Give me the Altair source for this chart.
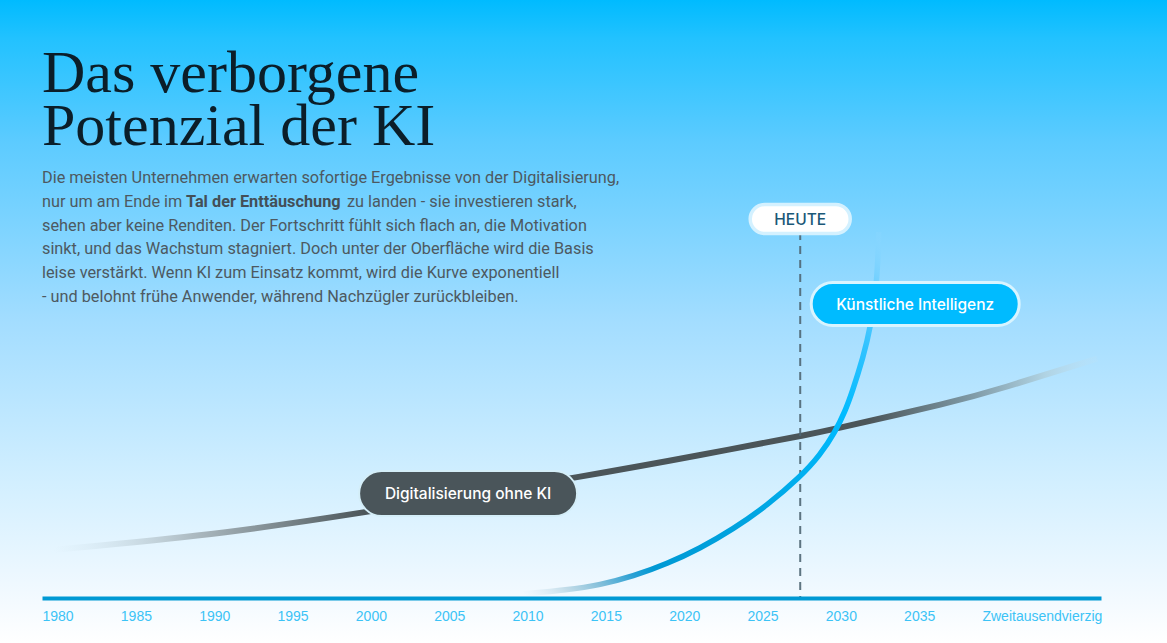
import altair as alt
import pandas as pd

# ---------------- data ----------------
digital_years = [1980.70, 1989.90, 2000.50, 2014.16, 2022.01, 2028.40, 2030.95, 2037.34, 2041.61, 2047.36]
digital_values = [48, 62.4, 85.6, 120.9, 143, 162, 170.4, 193.4, 211.5, 239.4]

ki_years = [2010.71, 2013.52, 2015.63, 2017.73, 2019.91, 2022.01, 2024.12, 2026.29, 2028.40,
            2029.67, 2030.63, 2031.27, 2031.72, 2032.42, 2032.87, 2033.32, 2033.41]
ki_values = [4, 8, 13, 21.6, 34.2, 49.7, 68.8, 92.6, 121, 143, 166, 187, 206, 241, 269, 316, 366]

tick_years = [1980, 1985, 1990, 1995, 2000, 2005, 2010, 2015, 2020, 2025, 2030, 2035, 2040]
tick_labels = ["1980", "1985", "1990", "1995", "2000", "2005", "2010", "2015", "2020",
               "2025", "2030", "2035", "Zweitausendvierzig"]

heute_year = 2028.4
heute_top = 366

title_lines = ["Das verborgene", "Potenzial der KI"]
para_line1 = "Die meisten Unternehmen erwarten sofortige Ergebnisse von der Digitalisierung,"
para_line2a = "nur um am Ende im"
para_line2b = "Tal der Enttäuschung"
para_line2c = "zu landen - sie investieren stark,"
para_rest = [
    "sehen aber keine Renditen. Der Fortschritt fühlt sich flach an, die Motivation",
    "sinkt, und das Wachstum stagniert. Doch unter der Oberfläche wird die Basis",
    "leise verstärkt. Wenn KI zum Einsatz kommt, wird die Kurve exponentiell",
    "- und belohnt frühe Anwender, während Nachzügler zurückbleiben.",
]

# ---------------- scales ----------------
X_DOMAIN = [1980, 2047.6]
Y_DOMAIN = [0, 598]
W, H = 1059, 598

xs = alt.Scale(domain=X_DOMAIN, nice=False, zero=False)
ys = alt.Scale(domain=Y_DOMAIN, nice=False, zero=False)

digital_df = pd.DataFrame({"Jahr": digital_years, "Wert": digital_values})
ki_df = pd.DataFrame({"Jahr": ki_years, "Wert": ki_values})
dummy = pd.DataFrame({"d": [0]})

expr = "''"
for y, l in reversed(list(zip(tick_years, tick_labels))):
    expr = f"(datum.value == {y} ? '{l}' : {expr})"
label_expr = expr

base = alt.Chart(dummy)

# background gradient
bg_grad = alt.Gradient(
    gradient="linear", x1=0, x2=0, y1=0, y2=1,
    stops=[
        alt.GradientStop(offset=0.0, color="#00bbff"),
        alt.GradientStop(offset=0.06, color="#22c2ff"),
        alt.GradientStop(offset=0.22, color="#5ccbff"),
        alt.GradientStop(offset=0.5, color="#a3ddff"),
        alt.GradientStop(offset=0.75, color="#d2efff"),
        alt.GradientStop(offset=0.92, color="#f1f9ff"),
        alt.GradientStop(offset=1.0, color="#ffffff"),
    ],
)
background = base.mark_rect(fill=bg_grad).encode(
    x=alt.value(-42), x2=alt.value(1125), y=alt.value(0), y2=alt.value(643)
)

dig_grad = alt.Gradient(
    gradient="linear", x1=0, x2=1, y1=0, y2=0,
    stops=[
        alt.GradientStop(offset=0.0, color="rgba(210,230,240,0)"),
        alt.GradientStop(offset=0.13, color="#afbdc4"),
        alt.GradientStop(offset=0.3, color="#4b5559"),
        alt.GradientStop(offset=0.78, color="#4b5559"),
        alt.GradientStop(offset=0.88, color="#7f9aa6"),
        alt.GradientStop(offset=0.95, color="#b0d3e3"),
        alt.GradientStop(offset=1.0, color="rgba(190,225,245,0.2)"),
    ],
)
digital_line = alt.Chart(digital_df).mark_line(
    stroke=dig_grad, strokeWidth=6, interpolate="natural", strokeCap="butt"
).encode(
    x=alt.X("Jahr:Q", scale=xs, axis=alt.Axis(
        values=tick_years, labelExpr=label_expr, title=None, grid=False, ticks=False,
        domain=True, domainColor="#0099d4", domainWidth=4, labelAlign="left",
        labelFlush=False, labelOverlap=False, labelPadding=11, labelFontSize=14,
        labelFont="Liberation Sans", labelColor="#3cc3f6", labelBaseline="top",
        zindex=1)),
    y=alt.Y("Wert:Q", scale=ys, axis=None),
)

ki_grad = alt.Gradient(
    gradient="linear", x1=0, y1=1, x2=1, y2=0,
    stops=[
        alt.GradientStop(offset=0.0, color="rgba(220,235,245,0)"),
        alt.GradientStop(offset=0.07, color="#c0dbe8"),
        alt.GradientStop(offset=0.12, color="#86c0da"),
        alt.GradientStop(offset=0.18, color="#2aa0d4"),
        alt.GradientStop(offset=0.22, color="#0099d4"),
        alt.GradientStop(offset=0.45, color="#00a6e3"),
        alt.GradientStop(offset=0.7, color="#00bbff"),
        alt.GradientStop(offset=0.82, color="#30c2ff"),
        alt.GradientStop(offset=0.92, color="#6ccfff"),
        alt.GradientStop(offset=1.0, color="rgba(140,215,255,0.3)"),
    ],
)
ki_line = alt.Chart(ki_df).mark_line(
    stroke=ki_grad, strokeWidth=5.5, interpolate="basis", strokeCap="butt"
).encode(
    x=alt.X("Jahr:Q", scale=xs),
    y=alt.Y("Wert:Q", scale=ys),
)

heute_df = pd.DataFrame({"Jahr": [heute_year], "Top": [heute_top], "Boden": [0]})
heute_rule = alt.Chart(heute_df).mark_rule(
    color="#4f6673", strokeWidth=2, strokeDash=[8, 6], opacity=0.9
).encode(
    x=alt.X("Jahr:Q", scale=xs),
    y=alt.Y("Top:Q", scale=ys),
    y2=alt.Y2("Boden:Q"),
)

# label boxes
def label_box(text, year, value, w, h, fill, stroke, sw, tcolor, fsize, fweight):
    df = pd.DataFrame({"Jahr": [year], "Wert": [value], "t": [text]})
    c = alt.Chart(df)
    box = c.mark_rect(
        fill=fill, stroke=stroke, strokeWidth=sw, cornerRadius=h / 2,
        xOffset=-w / 2, x2Offset=w / 2, yOffset=-h / 2, y2Offset=h / 2,
    ).encode(
        x=alt.X("Jahr:Q", scale=xs), x2=alt.X2("Jahr:Q"),
        y=alt.Y("Wert:Q", scale=ys), y2=alt.Y2("Wert:Q"),
    )
    txt = c.mark_text(
        font="Inter", fontSize=fsize, fontWeight=fweight, color=tcolor,
        align="center", baseline="middle", dy=0.5,
    ).encode(
        x=alt.X("Jahr:Q", scale=xs), y=alt.Y("Wert:Q", scale=ys), text="t:N"
    )
    return box + txt

dig_label = label_box("Digitalisierung ohne KI", 2007.2, 104.5, 218, 45,
                      "#4a555a", "#d4eef8", 2, "#ffffff", 15.5, 500)
ki_label = label_box("Künstliche Intelligenz", 2035.74, 294, 208, 43,
                     "#00bbff", "#d8f4ff", 3, "#ffffff", 15.5, 500)
heute_label = label_box("HEUTE", 2028.4, 379, 100, 29,
                        "#ffffff", "#d4f1ff", 3.5, "#1b5878", 15.5, 500)

# title and paragraph
title_style = dict(font="Liberation Serif", fontSize=60, color="#0b1e29", align="left",
                   baseline="alphabetic")
t1 = base.mark_text(**title_style).encode(x=alt.value(0), y=alt.value(92),
                                         text=alt.value(title_lines[0]))
t2 = base.mark_text(**title_style).encode(x=alt.value(0), y=alt.value(145),
                                         text=alt.value(title_lines[1]))

para_style = dict(font="Roboto", fontSize=16.3, color="#4d5961", align="left",
                  baseline="alphabetic", lineHeight=23.8)
p1 = base.mark_text(**para_style).encode(x=alt.value(0), y=alt.value(183),
                                        text=alt.value(para_line1))
p2a = base.mark_text(**para_style).encode(x=alt.value(0), y=alt.value(206.8),
                                         text=alt.value(para_line2a))
p2b = base.mark_text(**{**para_style, "fontWeight": "bold", "color": "#434f57"}).encode(
    x=alt.value(144), y=alt.value(206.8), text=alt.value(para_line2b))
p2c = base.mark_text(**para_style).encode(x=alt.value(305), y=alt.value(206.8),
                                         text=alt.value(para_line2c))
p3 = base.mark_text(**para_style).encode(x=alt.value(0), y=alt.value(230.6),
                                        text=alt.value(para_rest))

chart = alt.layer(
    background, digital_line, heute_rule, ki_line, dig_label, ki_label, heute_label,
    t1, t2, p1, p2a, p2b, p2c, p3,
).properties(
    width=W, height=H,
    autosize=alt.AutoSizeParams(type="none"),
    padding={"left": 42, "top": 0, "right": 66, "bottom": 45},
    background="#ffffff",
).configure_view(stroke=None)

chart.save("out.html", embed_options={"renderer": "svg", "actions": False})
